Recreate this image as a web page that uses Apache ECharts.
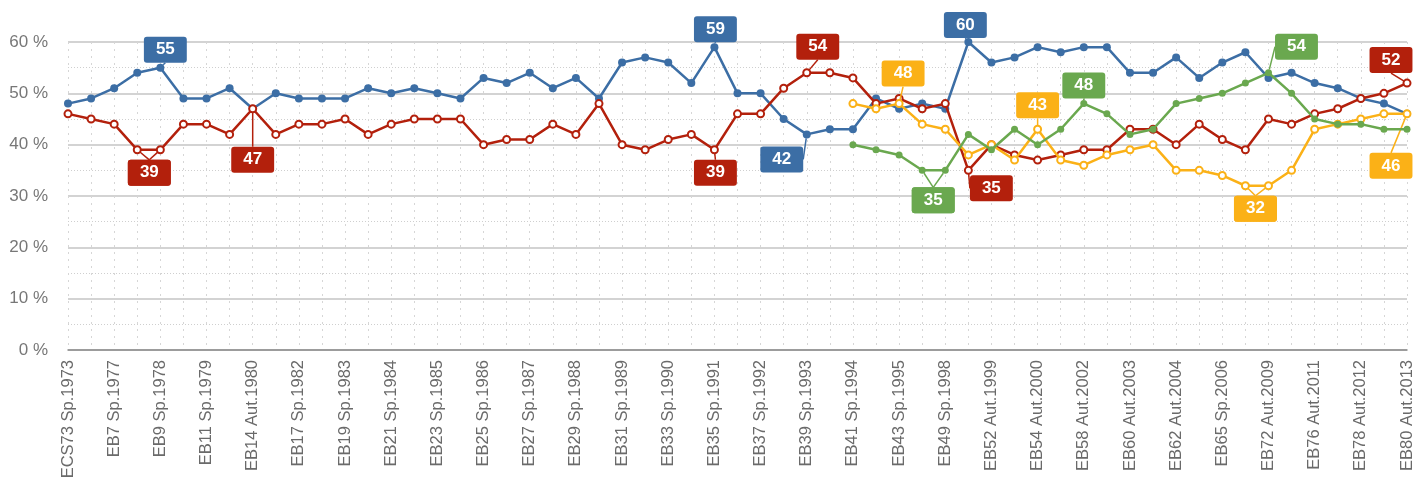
<!DOCTYPE html>
<html>
<head>
<meta charset="utf-8">
<script src="https://cdn.jsdelivr.net/npm/echarts@6/dist/echarts.min.js"></script>
<style>
html,body{margin:0;padding:0;background:#fff;}
#chart{width:1425px;height:477px;}
</style>
</head>
<body>
<div id="chart"></div>
<script>
const categories = [
  'ECS73 Sp.1973','EB6 Aut.1976','EB7 Sp.1977','EB8 Aut.1977','EB9 Sp.1978','EB10 Aut.1978',
  'EB11 Sp.1979','EB12 Aut.1979','EB14 Aut.1980','EB16 Aut.1981','EB17 Sp.1982','EB18 Aut.1982',
  'EB19 Sp.1983','EB20 Aut.1983','EB21 Sp.1984','EB22 Aut.1984','EB23 Sp.1985','EB24 Aut.1985',
  'EB25 Sp.1986','EB26 Aut.1986','EB27 Sp.1987','EB28 Aut.1987','EB29 Sp.1988','EB30 Aut.1988',
  'EB31 Sp.1989','EB32 Aut.1989','EB33 Sp.1990','EB34 Aut.1990','EB35 Sp.1991','EB36 Aut.1991',
  'EB37 Sp.1992','EB38 Aut.1992','EB39 Sp.1993','EB40 Aut.1993','EB41 Sp.1994','EB42 Aut.1994',
  'EB43 Sp.1995','EB44 Aut.1995','EB49 Sp.1998','EB50 Aut.1998','EB52 Aut.1999','EB53 Sp.2000',
  'EB54 Aut.2000','EB56 Aut.2001','EB58 Aut.2002','EB59 Sp.2003','EB60 Aut.2003','EB61 Sp.2004',
  'EB62 Aut.2004','EB64 Aut.2005','EB65 Sp.2006','EB68 Aut.2007','EB72 Aut.2009','EB74 Aut.2010',
  'EB76 Aut.2011','EB77 Sp.2012','EB78 Aut.2012','EB79 Sp.2013','EB80 Aut.2013'
];

const blueValues = [48,49,51,54,55,49,49,51,47,50,49,49,49,51,50,51,50,49,
  53,52,54,51,53,49,56,57,56,52,59,50,50,45,42,43,43,49,47,48,47,
  60,56,57,59,58,59,59,54,54,57,53,56,58,53,54,52,51,49,48,46];

const redValues = [46,45,44,39,39,44,44,42,47,42,44,44,45,42,44,45,45,45,
  40,41,41,44,42,48,40,39,41,42,39,46,46,51,54,54,53,48,49,47,48,
  35,40,38,37,38,39,39,43,43,40,44,41,39,45,44,46,47,49,50,52];

const orangeValues = [null,null,null,null,null,null,null,null,null,null,null,null,null,null,null,null,null,null,
  null,null,null,null,null,null,null,null,null,null,null,null,null,null,null,null,48,47,48,44,43,
  38,40,37,43,37,36,38,39,40,35,35,34,32,32,35,43,44,45,46,46];

const greenValues = [null,null,null,null,null,null,null,null,null,null,null,null,null,null,null,null,null,null,
  null,null,null,null,null,null,null,null,null,null,null,null,null,null,null,null,40,39,38,35,35,
  42,39,43,40,43,48,46,42,43,48,49,50,52,54,50,45,44,44,43,43];

const yTicks = [0,10,20,30,40,50,60];

// callouts: series index, data index, label offset from the point
const callouts = [
  {s:0,i:4,dx:5,dy:-18},
  {s:1,i:3,dx:12,dy:23},{s:1,i:4,dx:-11,dy:23},
  {s:1,i:8,dx:0,dy:51},
  {s:0,i:28,dx:1,dy:-18},
  {s:1,i:28,dx:1,dy:23},
  {s:1,i:32,dx:11,dy:-26},
  {s:0,i:32,dx:-25,dy:25},
  {s:2,i:36,dx:4,dy:-30},
  {s:3,i:37,dx:11,dy:30},{s:3,i:38,dx:-12,dy:30},
  {s:0,i:39,dx:-3,dy:-17},
  {s:1,i:39,dx:23,dy:18},
  {s:2,i:42,dx:0,dy:-24},
  {s:3,i:44,dx:0,dy:-18},
  {s:2,i:51,dx:10,dy:23},{s:2,i:52,dx:-13,dy:23},
  {s:3,i:52,dx:28,dy:-26},
  {s:1,i:58,dx:-16,dy:-23},
  {s:2,i:58,dx:-16,dy:52}
];

const colors = ['#3c6ea5','#b3200c','#fbb117','#6aa84f'];
const FONT = '"Liberation Sans", Arial, Helvetica, sans-serif';

function buildData(values, sIdx) {
  return values.map((v, i) => {
    const c = callouts.find(c => c.s === sIdx && c.i === i);
    if (!c || v == null) return v;
    return {
      value: v,
      label: {
        show: true, position: 'inside',
        backgroundColor: colors[sIdx], borderRadius: 3,
        padding: [4, 12, 4, 12], color: '#fff', fontSize: 17, lineHeight: 18,
        fontWeight: 'bold', fontFamily: FONT
      },
      labelLine: { show: true, lineStyle: { color: colors[sIdx], width: 1.5 } }
    };
  });
}

const seriesDefs = [
  { name: 'A', values: blueValues, symbol: 'circle', size: 8 },
  { name: 'B', values: redValues, symbol: 'emptyCircle', size: 7 },
  { name: 'C', values: orangeValues, symbol: 'emptyCircle', size: 7 },
  { name: 'D', values: greenValues, symbol: 'circle', size: 7 }
];

const chart = echarts.init(document.getElementById('chart'), null, { renderer: 'canvas' });
chart.setOption({
  animation: false,
  color: colors,
  textStyle: { fontFamily: FONT },
  grid: { left: 68, right: 18, top: 42, bottom: 127, containLabel: false, outerBoundsMode: 'none' },
  xAxis: {
    type: 'category', data: categories, boundaryGap: false,
    axisLine: { show: true, lineStyle: { color: '#8a8a8a', width: 1.5 } },
    axisTick: { show: false },
    axisLabel: { interval: 1, rotate: 90, color: '#6a6a6a', fontSize: 16.5, margin: 10, fontFamily: FONT },
    splitLine: { show: true, interval: 0, lineStyle: { color: '#d6d6d6', type: [2, 5], width: 1 } }
  },
  yAxis: {
    type: 'value', min: yTicks[0], max: yTicks[yTicks.length - 1], interval: 10,
    axisLine: { show: false }, axisTick: { show: false },
    axisLabel: { formatter: '{value} %', color: '#777', fontSize: 17, margin: 20, fontFamily: FONT },
    splitLine: { show: true, lineStyle: { color: '#c4c4c4', width: 1.5 } },
    minorTick: { show: false, splitNumber: 2 },
    minorSplitLine: { show: true, lineStyle: { color: '#cfcfcf', type: [1, 2], width: 1 } }
  },
  series: seriesDefs.map((d, sIdx) => ({
    name: d.name, type: 'line', data: buildData(d.values, sIdx),
    symbol: d.symbol, symbolSize: d.size, showAllSymbol: true,
    connectNulls: false,
    lineStyle: { width: 2.5, color: colors[sIdx] },
    itemStyle: { color: colors[sIdx], borderColor: colors[sIdx], borderWidth: d.symbol === 'emptyCircle' ? 2 : 0 },
    emphasis: { disabled: true },
    labelLayout: function (p) {
      const c = callouts.find(c => c.s === p.seriesIndex && c.i === p.dataIndex);
      return c ? { dx: c.dx, dy: c.dy } : {};
    },
    z: 2 + sIdx
  }))
});
</script>
</body>
</html>
